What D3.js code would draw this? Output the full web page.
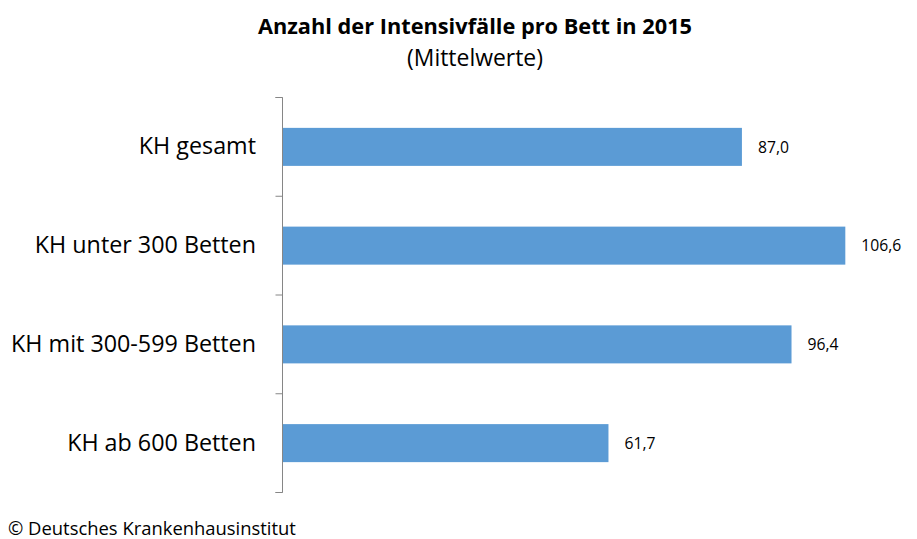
<!DOCTYPE html>
<html><head><meta charset="utf-8">
<script src="https://cdn.jsdelivr.net/npm/d3@7"></script>
<style>body{margin:0;background:#fff}</style>
</head><body>
<svg id="c" width="917" height="539"></svg>
<script>
const categories = ["KH gesamt", "KH unter 300 Betten", "KH mit 300-599 Betten", "KH ab 600 Betten"];
const values = [87.0, 106.6, 96.4, 61.7];
const titleText = "Anzahl der Intensivfälle pro Bett in 2015";
const subtitleText = "(Mittelwerte)";
const footerText = "© Deutsches Krankenhausinstitut";

const font = "'Open Sans', sans-serif";
const svg = d3.select("#c");
const x = d3.scaleLinear().domain([0, 120]).range([283, 916]);
const y = d3.scaleBand().domain(categories).range([97.5, 492.5]).paddingInner(0.615).paddingOuter(0.3075);

function fit(sel, w) {
  const n = sel.node();
  const fs = parseFloat(sel.attr("font-size"));
  const len = n.getComputedTextLength();
  sel.attr("font-size", (fs * w / len).toFixed(2));
}

const t = svg.append("text").attr("x", 475).attr("y", 34).attr("text-anchor", "middle")
  .attr("font-family", font).attr("font-weight", "bold").attr("font-size", 18).attr("fill", "#000").text(titleText);
fit(t, 434);
const st = svg.append("text").attr("x", 475).attr("y", 66).attr("text-anchor", "middle")
  .attr("font-family", font).attr("font-size", 18).attr("fill", "#000").text(subtitleText);
fit(st, 136);

svg.selectAll("rect.bar").data(values).join("rect").attr("class", "bar")
  .attr("x", x(0)).attr("y", (d, i) => y(categories[i]))
  .attr("width", d => x(d) - x(0)).attr("height", y.bandwidth()).attr("fill", "#5B9BD5");

const axis = d3.axisLeft(y).tickSize(7).tickFormat(d => d).tickPadding(19.5);
const g = svg.append("g").attr("transform", `translate(${x(0) - 0.5},0)`).call(axis);
g.selectAll(".tick line").remove();
g.selectAll(".tick text").attr("font-family", font).attr("font-size", 20).attr("fill", "#000");
const probe = g.selectAll(".tick text").filter(d => d === "KH mit 300-599 Betten");
const fs0 = 20 * 245 / probe.node().getComputedTextLength();
g.selectAll(".tick text").attr("font-size", fs0.toFixed(2));

const step = y.step();
const bounds = d3.range(categories.length + 1).map(i => 97.5 + i * step);
g.selectAll("line.b").data(bounds).join("line").attr("class", "b")
  .attr("x1", -7).attr("x2", 0).attr("y1", d => d).attr("y2", d => d).attr("stroke", "#868686");
g.select(".domain").attr("stroke", "#868686").attr("d", `M-7,${bounds[0]}H0V${bounds[bounds.length-1]}H-7`).attr("fill", "none");

const vals = svg.selectAll("text.val").data(values).join("text").attr("class", "val")
  .attr("x", d => x(d) + 16).attr("y", (d, i) => y(categories[i]) + y.bandwidth() / 2)
  .attr("dy", "0.36em").attr("font-family", font).attr("font-size", 16).attr("fill", "#000")
  .text(d => d3.format(".1f")(d).replace(".", ","));
const vp = vals.filter(d => d === 106.6);
const fsv = 16 * 40 / vp.node().getComputedTextLength();
vals.attr("font-size", fsv.toFixed(2));

const f = svg.append("text").attr("x", 8).attr("y", 535).attr("font-family", font).attr("font-size", 16)
  .attr("fill", "#000").text(footerText);
fit(f, 288);
</script>
</body></html>
